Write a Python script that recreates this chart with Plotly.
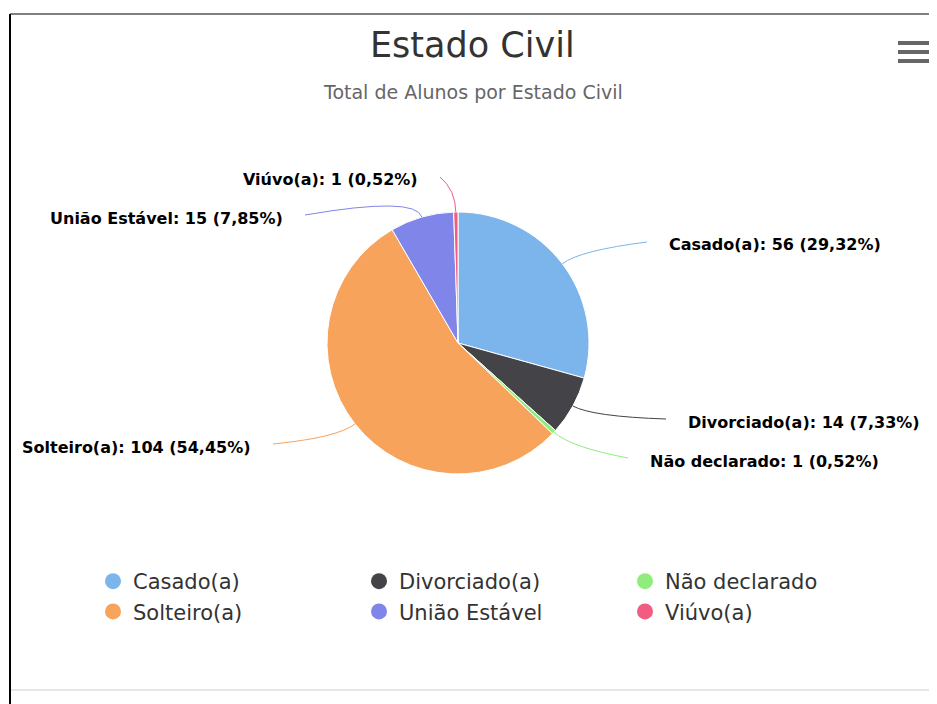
import math
import plotly.graph_objects as go

# ---- data ----
categories = ["Casado(a)", "Divorciado(a)", "Não declarado", "Solteiro(a)", "União Estável", "Viúvo(a)"]
counts = [56, 14, 1, 104, 15, 1]
colors = ["#7cb5ec", "#434348", "#90ed7d", "#f7a35c", "#8085e9", "#f15c80"]
title_text = "Estado Civil"
subtitle_text = "Total de Alunos por Estado Civil"

# ---- layout constants (page pixel coords; page has an 8px body margin) ----
OFF = 8
W, H = 937 - OFF, 704 - OFF
cx, cy, r = 458, 343, 131
# label anchors (page px) : (x, y, anchor)
label_pos = [
    (667, 245, "left"),
    (686, 422, "left"),
    (648, 461, "left"),
    (253, 447, "right"),
    (285, 218, "right"),
    (420, 180, "right"),
]


def px2paper(px, py):
    return (px - OFF) / W, 1 - (py - OFF) / H


total = sum(counts)
pcts = [c / total * 100 for c in counts]

fig = go.Figure()

dx0, dy1 = px2paper(cx - r, cy - r)
dx1, dy0 = px2paper(cx + r, cy + r)
fig.add_trace(go.Pie(
    labels=categories,
    values=counts,
    marker=dict(colors=colors, line=dict(color="white", width=1)),
    sort=False,
    direction="clockwise",
    rotation=0,
    textinfo="none",
    showlegend=False,
    domain=dict(x=[dx0, dx1], y=[dy0, dy1]),
    hovertemplate="%{label}: %{value}<extra></extra>",
))

# legend entries with round markers
for name, col in zip(categories, colors):
    fig.add_trace(go.Scatter(x=[None], y=[None], mode="markers", name=name,
                             marker=dict(size=18, color=col, symbol="circle")))

annotations = []
shapes = []
cum = 0
for i, (name, c, col) in enumerate(zip(categories, counts, colors)):
    frac_mid = (cum + c / 2) / total
    cum += c
    th = 2 * math.pi * frac_mid
    ex, ey = cx + r * math.sin(th), cy - r * math.cos(th)
    bx, by = cx + (r + 22) * math.sin(th), cy - (r + 22) * math.cos(th)
    lx, ly, anc = label_pos[i]
    endx = lx - 20 if anc == "left" else lx + 20
    endy = ly - 3
    p = [px2paper(ex, ey), px2paper(bx, by), px2paper(endx, endy)]
    shapes.append(dict(type="path", xref="paper", yref="paper",
                       path=f"M {p[0][0]},{p[0][1]} Q {p[1][0]},{p[1][1]} {p[2][0]},{p[2][1]}",
                       line=dict(color=col, width=1)))
    txt = f"<b>{name}: {c} ({pcts[i]:.2f}%)</b>".replace(".", ",")
    ax, ay = px2paper(lx, ly)
    annotations.append(dict(x=ax, y=ay, xref="paper", yref="paper", text=txt,
                            showarrow=False, xanchor=anc, yanchor="middle",
                            font=dict(family="DejaVu Sans", size=16, color="#000000")))

# title / subtitle
tx, ty = px2paper(472, 45)
annotations.append(dict(x=tx, y=ty, xref="paper", yref="paper", text=title_text, showarrow=False,
                        xanchor="center", yanchor="middle",
                        font=dict(family="DejaVu Sans", size=35, color="#333333")))
sx, sy = px2paper(473, 92)
annotations.append(dict(x=sx, y=sy, xref="paper", yref="paper", text=subtitle_text, showarrow=False,
                        xanchor="center", yanchor="middle",
                        font=dict(family="DejaVu Sans", size=19, color="#666666")))

# frame / decorations
def hline(x0, x1, y, color, width):
    a0, b = px2paper(x0, y)
    a1, _ = px2paper(x1, y)
    return dict(type="line", xref="paper", yref="paper", x0=a0, x1=a1, y0=b, y1=b,
                line=dict(color=color, width=width))


lx0, ly_top = px2paper(10, 14)
shapes += [
    hline(10, 937, 14, "#808080", 2),
    dict(type="line", xref="paper", yref="paper", x0=lx0, x1=lx0, y0=0, y1=ly_top,
         line=dict(color="#000000", width=2)),
    hline(11, 937, 690, "#e6e6e6", 2),
]
for yy in (43, 52, 61):
    shapes.append(hline(898, 931, yy, "#666666", 4))

lgx, lgy = px2paper(93, 561)
fig.update_layout(
    width=W, height=H,
    margin=dict(l=0, r=0, t=0, b=0),
    paper_bgcolor="white", plot_bgcolor="white",
    xaxis=dict(visible=False), yaxis=dict(visible=False),
    annotations=annotations, shapes=shapes,
    legend=dict(orientation="h", x=lgx, xanchor="left", y=lgy, yanchor="top",
                entrywidth=221, entrywidthmode="pixels", tracegroupgap=0,
                font=dict(family="DejaVu Sans", size=21, color="#333333"),
                bgcolor="rgba(0,0,0,0)"),
)

fig.write_html("out.html")
